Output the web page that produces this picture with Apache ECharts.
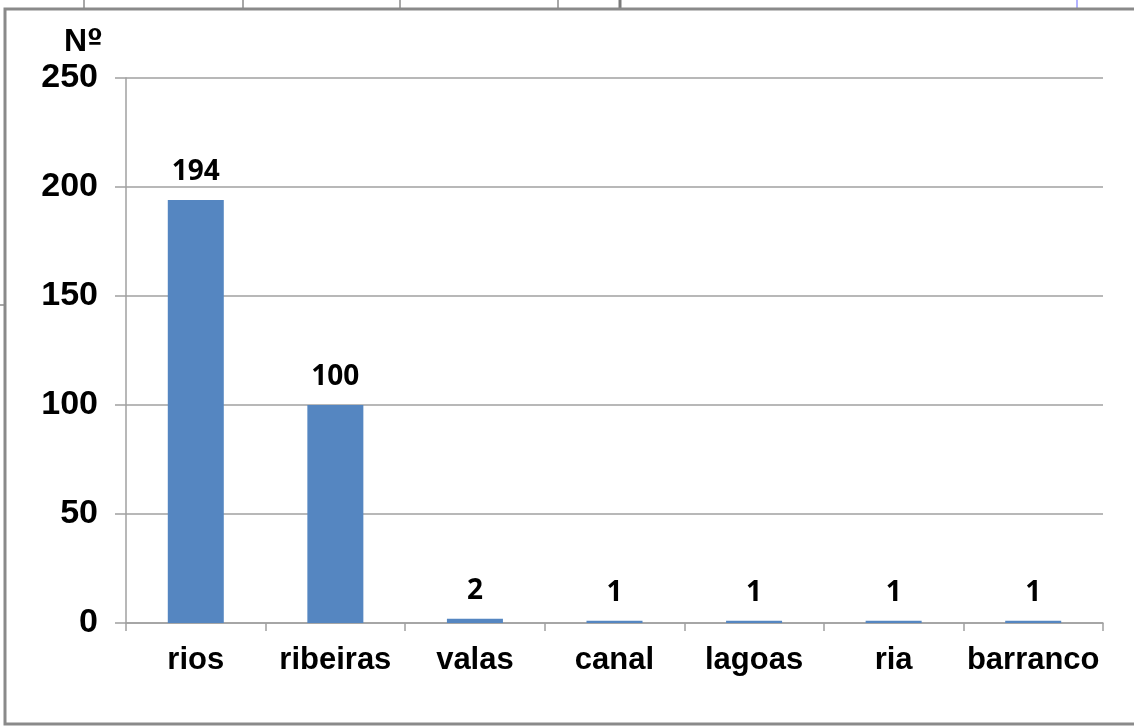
<!DOCTYPE html>
<html><head><meta charset="utf-8">
<script src="https://cdn.jsdelivr.net/npm/echarts@6/dist/echarts.min.js"></script>
<style>html,body{margin:0;padding:0;background:#fff}#c{width:1134px;height:728px}</style>
</head><body><div id="c"></div>
<script>
const categories = ['rios','ribeiras','valas','canal','lagoas','ria','barranco'];
const counts = [194, 100, 2, 1, 1, 1, 1];
const yTicks = {min: 0, max: 250, interval: 50};
const yNameMain = 'N';
const yNameSup = 'º';

const chart = echarts.init(document.getElementById('c'), null, {renderer: 'canvas'});
const gray = '#a0a0a0';
chart.setOption({
  backgroundColor: '#fff',
  animation: false,
  grid: {left: 126, right: 31, top: 78, bottom: 105, containLabel: false},
  xAxis: {
    type: 'category', data: categories,
    axisLine: {show: true, lineStyle: {color: gray, width: 1.5}},
    axisTick: {show: true, alignWithLabel: false, length: 8, lineStyle: {color: gray, width: 1.5}},
    axisLabel: {color: '#000', fontFamily: 'Liberation Sans', fontWeight: 'bold', fontSize: 31, margin: 22, interval: 0}
  },
  yAxis: {
    type: 'value', min: yTicks.min, max: yTicks.max, interval: yTicks.interval,
    axisLine: {show: true, lineStyle: {color: gray, width: 1.5}},
    axisTick: {show: true, length: 11, lineStyle: {color: gray, width: 1.5}},
    splitLine: {show: true, lineStyle: {color: gray, width: 1.5}},
    axisLabel: {color: '#000', fontFamily: 'Liberation Sans', fontWeight: 'bold', fontSize: 34, margin: 28}
  },
  series: [{
    type: 'bar', data: counts, barWidth: 56,
    itemStyle: {color: '#5586C1'},
    label: {show: true, position: 'top', distance: 14, color: '#000', fontFamily: 'Open Sans', fontWeight: 'bold', fontSize: 28}
  }],
  graphic: [
    {type: 'rect', shape: {x: 5, y: 9, width: 1200, height: 715}, style: {fill: 'none', stroke: '#8a8a8a', lineWidth: 3}, z: 100},
    {type: 'line', shape: {x1: 84, y1: 0, x2: 84, y2: 8}, style: {stroke: '#8a8a8a', lineWidth: 1.5}},
    {type: 'line', shape: {x1: 243, y1: 0, x2: 243, y2: 8}, style: {stroke: '#8a8a8a', lineWidth: 1.5}},
    {type: 'line', shape: {x1: 400, y1: 0, x2: 400, y2: 8}, style: {stroke: '#8a8a8a', lineWidth: 1.5}},
    {type: 'line', shape: {x1: 558, y1: 0, x2: 558, y2: 8}, style: {stroke: '#8a8a8a', lineWidth: 1.5}},
    {type: 'line', shape: {x1: 620, y1: 0, x2: 620, y2: 8}, style: {stroke: '#7a7a7a', lineWidth: 3}},
    {type: 'line', shape: {x1: 1077, y1: 0, x2: 1077, y2: 8}, style: {stroke: '#9999ff', lineWidth: 1.5}},
    {type: 'line', shape: {x1: 0, y1: 305, x2: 4, y2: 305}, style: {stroke: '#8a8a8a', lineWidth: 1.5}},
    {type: 'text', x: 64, y: 26, style: {
      text: '{n|' + yNameMain + '}{o|' + yNameSup + '}',
      rich: {
        n: {fill: '#000', fontFamily: 'Liberation Sans', fontWeight: 'bold', fontSize: 32},
        o: {fill: '#000', fontFamily: 'DejaVu Sans', fontWeight: 'bold', fontSize: 28}
      }
    }}
  ]
});
</script></body></html>
